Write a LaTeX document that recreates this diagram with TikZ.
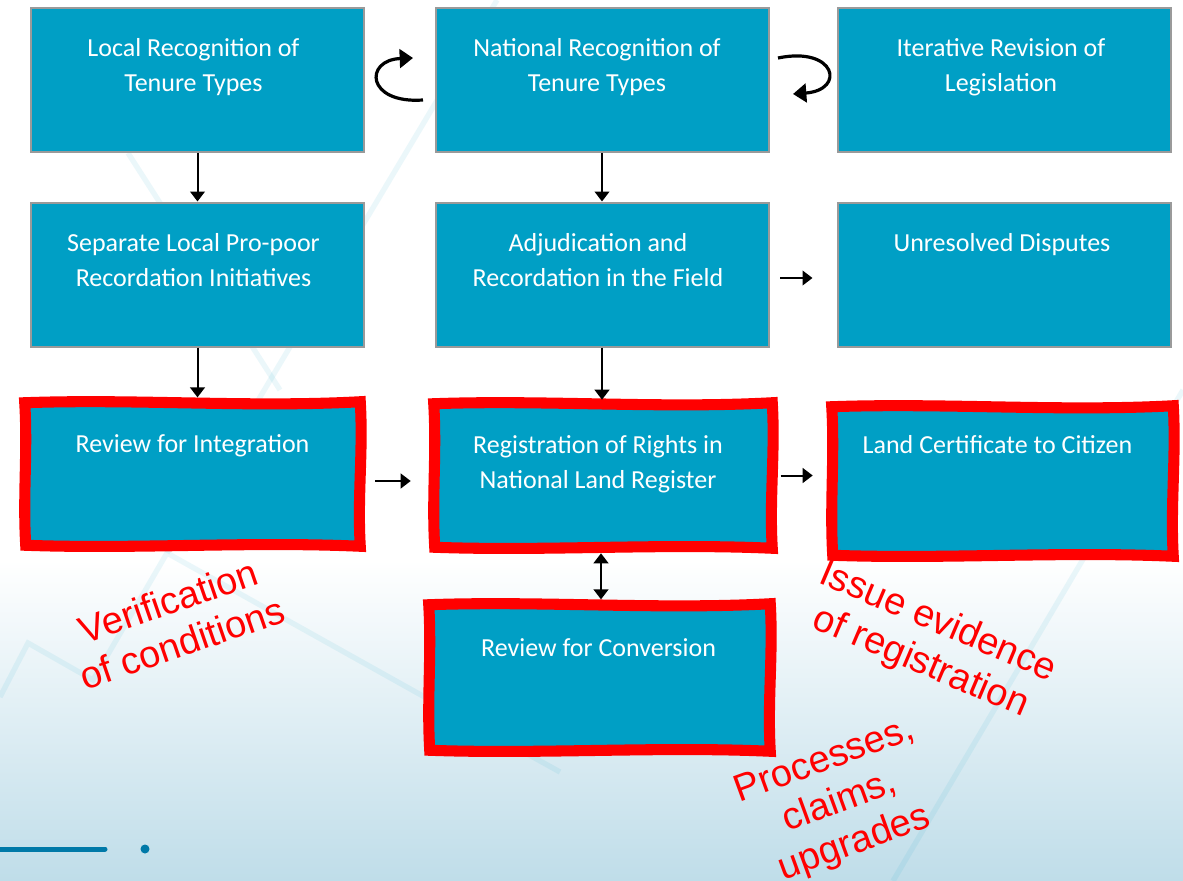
\documentclass[tikz,border=0pt]{standalone}
\usepackage{fontspec}
\setmainfont{Carlito}
\newfontfamily\arialfont{Liberation Sans}
\usetikzlibrary{arrows.meta}
\definecolor{boxteal}{HTML}{009FC5}
\definecolor{boxgray}{HTML}{9A9A9A}
\definecolor{bgblue}{HTML}{BFDDE9}
\definecolor{linkblue}{HTML}{0079A8}
\definecolor{annred}{HTML}{FF0000}
\newcommand\wobblebox[1]{%
  \draw[redline] ([shift={(-1,0)}]#1.north west)
    .. controls ([shift={(110,-4)}]#1.north west) and ([shift={(-110,5)}]#1.north east) .. ([shift={(1,-1)}]#1.north east)
    .. controls ([shift={(4,50)}]#1.north east) and ([shift={(-2,-50)}]#1.south east) .. ([shift={(1,1)}]#1.south east)
    .. controls ([shift={(-110,-4)}]#1.south east) and ([shift={(110,4)}]#1.south west) .. ([shift={(0,0)}]#1.south west)
    .. controls ([shift={(-3,-50)}]#1.south west) and ([shift={(2,50)}]#1.north west) .. cycle;}
\begin{document}
\begin{tikzpicture}[x=0.75pt,y=-0.75pt,
  box/.style={draw=boxgray, line width=1.5pt, fill=boxteal, inner sep=0pt, minimum width=249.75pt, minimum height=108pt},
  rbox/.style={fill=boxteal, inner sep=0pt},
  txt/.style={text=white, font=\fontsize{19.5}{26.25}\selectfont, align=center, inner sep=0pt, anchor=north},
  arr/.style={line width=1.5pt, -{Triangle[width=11pt,length=7.5pt]}},
  darr/.style={line width=1.5pt, {Triangle[width=11pt,length=7.5pt]}-{Triangle[width=11pt,length=7.5pt]}},
  curv/.style={line width=2.4pt, -{Triangle[width=14pt,length=10pt]}},
  redline/.style={draw=annred, line width=8.3pt, line join=miter},
  ann/.style={text=annred, font=\arialfont\fontsize{28.5}{33}\selectfont, align=center, inner sep=0pt},
  bgline/.style={draw=boxteal, opacity=0.08, line width=4pt}
]
\useasboundingbox (0,0) rectangle (1183,881);
\fill[white] (0,0) rectangle (1183,881);
\shade[top color=white, bottom color=bgblue] (0,560) rectangle (1183,881);

% faint background lines
\draw[bgline] (0,697) -- (28,643) -- (93,680) -- (167,553) -- (430,700) -- (560,772);
\draw[bgline] (167,553) -- (497,0);
\draw[bgline] (128,153) -- (280,390);
\draw[bgline] (1183,390) -- (893,881);

% decoration bottom-left
\draw[linkblue, line width=3.75pt, line cap=round] (-5,849) -- (105,849);
\fill[linkblue] (145,849) circle (4.5);

% row 1
\node[box] (b1) at (197.5,80) {};
\node[box] (b2) at (602,80) {};
\node[box] (b3) at (1004,80) {};
% row 2
\node[box] (b4) at (197.5,274.5) {};
\node[box] (b5) at (602,274.5) {};
\node[box] (b6) at (1004,274.5) {};
% row 3 (outlined in red)
\node[rbox, minimum width=249.75pt, minimum height=106.5pt] (integ) at (192.5,474) {};
\node[rbox, minimum width=252pt, minimum height=107.25pt] (reg) at (603,475.5) {};
\node[rbox, minimum width=254.25pt, minimum height=111pt] (land) at (1002.5,481) {};
\node[rbox, minimum width=254.25pt, minimum height=108.75pt] (conv) at (599.5,677.5) {};

\wobblebox{integ}
\wobblebox{reg}
\wobblebox{land}
\wobblebox{conv}

% texts
\node[txt] (t1) at ([shift={(-4,31)}]b1.north) {Local Recognition of\\Tenure Types};
\node[txt] (t2) at ([shift={(-5,31)}]b2.north) {National Recognition of\\Tenure Types};
\node[txt] (t3) at ([shift={(-3,31)}]b3.north) {Iterative Revision of\\Legislation};
\node[txt] (t4) at ([shift={(-4,32)}]b4.north) {Separate Local Pro-poor\\Recordation Initiatives};
\node[txt] (t5) at ([shift={(-4,32)}]b5.north) {Adjudication and\\Recordation in the Field};
\node[txt] (t6) at ([shift={(-2,32)}]b6.north) {Unresolved Disputes};
\node[txt] (t7) at ([shift={(0,32)}]integ.north) {Review for Integration};
\node[txt] (t8) at ([shift={(-5,31)}]reg.north) {Registration of Rights in\\National Land Register};
\node[txt] (t9) at ([shift={(-5,28)}]land.north) {Land Certificate to Citizen};
\node[txt] (t10) at ([shift={(-1,34)}]conv.north) {Review for Conversion};

% connectors
\draw[arr] (b1.south) -- (b4.north);
\draw[arr] (b2.south) -- (b5.north);
\draw[arr, shorten >=4pt] (b4.south) -- (b4.south |- integ.north);
\draw[arr, shorten >=3pt] (b5.south) -- (b5.south |- reg.north);
\draw[arr, shorten <=8pt, shorten >=18pt] ([shift={(0,3.5)}]b5.east) -- ([shift={(0,3.5)}]b6.west);
\draw[arr, shorten <=12pt, shorten >=18pt] ([shift={(0,7)}]integ.east) -- ([shift={(0,7)}]integ.east -| reg.west);
\draw[arr, shorten <=7pt, shorten >=15pt] (reg.east) -- (reg.east -| land.west);
\draw[darr, shorten <=4.5pt, shorten >=4pt] ([xshift=-1.5pt]reg.south) -- ([xshift=-1.5pt]reg.south |- conv.north);

% curved arrows between top boxes
\coordinate (ca1s) at (423,100);
\coordinate (ca1e) at (413,58);
\draw[curv] (ca1s) .. controls (366,104) and (364,60) .. (ca1e);
\coordinate (ca2s) at (778,58);
\coordinate (ca2e) at (793,94);
\draw[curv] (ca2s) .. controls (836,46) and (846,90) .. (ca2e);

% red annotations
\node[ann, rotate=19] (vc) at (175,622) {Verification\\of conditions};
\node[ann, rotate=-23] (ie) at (929,643) {Issue evidence\\of registration};
\node[ann, rotate=20] (pc) at (840,803) {Processes,\\claims,\\upgrades};
\end{tikzpicture}
\end{document}
